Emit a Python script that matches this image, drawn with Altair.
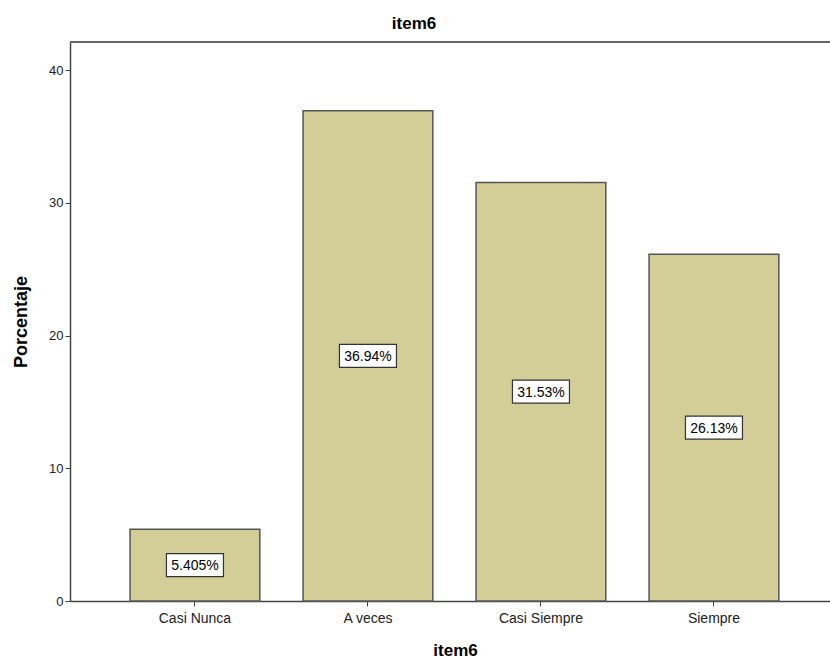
import altair as alt
import pandas as pd

categories = ["Casi Nunca", "A veces", "Casi Siempre", "Siempre"]
percentages = [5.405, 36.94, 31.53, 26.13]
label_texts = ["5.405%", "36.94%", "31.53%", "26.13%"]

df = pd.DataFrame({"cat": categories, "pct": percentages, "lab": label_texts})
df["mid"] = df["pct"] / 2

FONT = "Liberation Sans"
W, H = 760, 559

xscale = alt.Scale(domain=categories, paddingInner=0.25, paddingOuter=0.3215, align=0.54)
yscale = alt.Scale(domain=[0, 42.11], nice=False, zero=True)

x_enc = alt.X("cat:N", scale=xscale, sort=categories,
              axis=alt.Axis(title="item6", labelAngle=0, labelFont=FONT, labelFontSize=14,
                            labelColor="#222222", tickSize=5, tickColor="#444444",
                            domainColor="#444444", domainWidth=1.5, labelPadding=5,
                            titleFont=FONT, titleFontSize=17, titleFontWeight="bold",
                            titleColor="#000000", titlePadding=17, titleX=385))
y_enc = alt.Y("pct:Q", scale=yscale,
              axis=alt.Axis(title="Porcentaje", values=[0, 10, 20, 30, 40], grid=False,
                            labelFont=FONT, labelFontSize=13, labelColor="#222222",
                            tickSize=5, tickColor="#444444", domainColor="#444444",
                            domainWidth=1.5, labelPadding=2,
                            titleFont=FONT, titleFontSize=18, titleFontWeight="bold",
                            titleColor="#000000", titlePadding=18))

bars = alt.Chart(df).mark_bar(color="#D3CE97", stroke="#555555", strokeWidth=1.5).encode(
    x=x_enc, y=y_enc
)

boxes = alt.Chart(df).mark_rect(width=57, height=23, fill="white", stroke="#333333",
                                strokeWidth=1.2).encode(
    x=alt.X("cat:N", scale=xscale, sort=categories),
    y=alt.Y("mid:Q", scale=yscale),
)

texts = alt.Chart(df).mark_text(font=FONT, fontSize=14, color="#000000", dy=1).encode(
    x=alt.X("cat:N", scale=xscale, sort=categories),
    y=alt.Y("mid:Q", scale=yscale),
    text="lab:N",
)

top_line = alt.Chart(df).mark_rule(color="#666666", strokeWidth=2).encode(
    x=alt.value(0), x2=alt.value(W), y=alt.value(0)
)

chart = alt.layer(bars, boxes, texts, top_line).properties(
    width=W, height=H,
    title=alt.TitleParams("item6", font=FONT, fontSize=17, fontWeight="bold",
                          color="#000000", dx=-36, offset=8),
    padding={"left": 70, "top": 42, "right": 0, "bottom": 60},
    autosize=alt.AutoSizeParams(type="none"),
).configure_view(fill="#F0F0F0", stroke=None).configure(background="white")

chart.save("out.html", embed_options={"renderer": "svg", "actions": False})
